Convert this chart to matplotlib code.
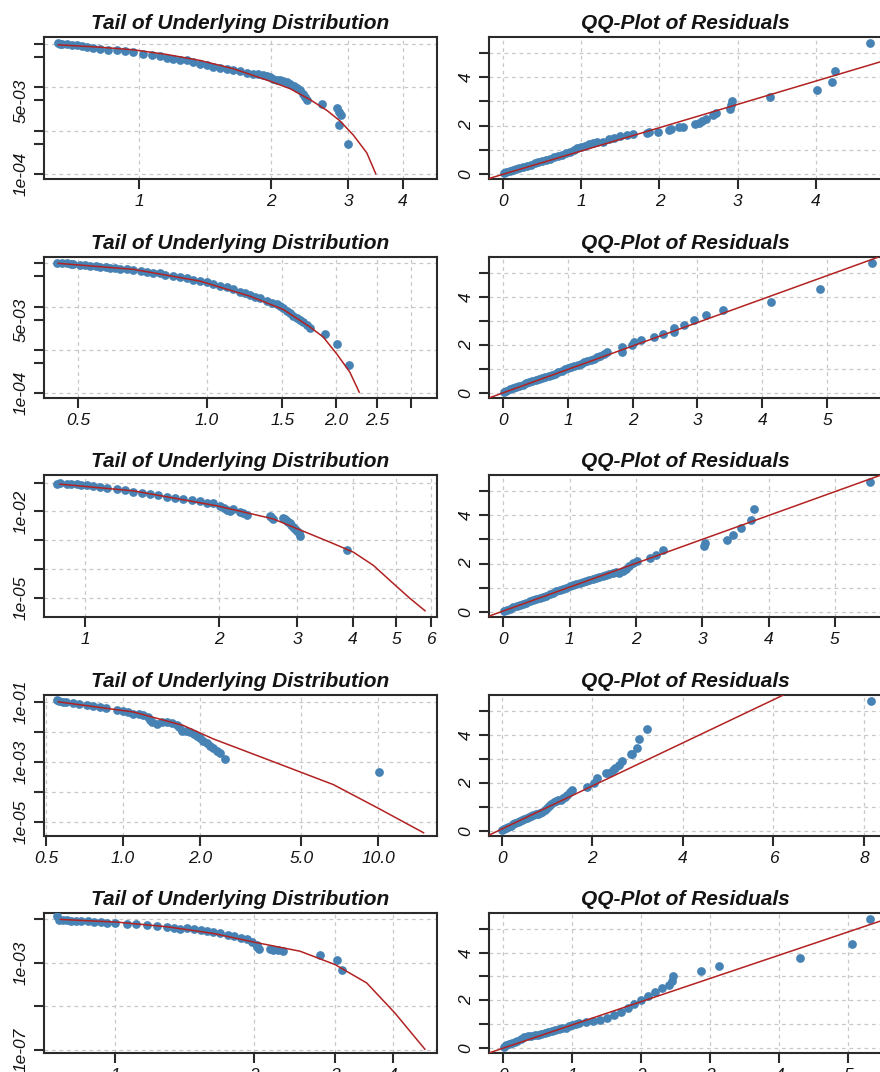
import matplotlib
matplotlib.use('Agg')
import matplotlib.pyplot as plt

plt.rcParams['font.family'] = ['Liberation Sans', 'DejaVu Sans']

# ---------------- data: tail plots (left column) ----------------
tail1_x = [0.654,0.660,0.668,0.684,0.702,0.721,0.740,0.760,0.787,0.815,0.851,0.889,0.929,0.970,
           1.023,1.070,1.117,1.157,1.197,1.240,1.285,1.330,1.377,1.427,1.477,1.530,1.585,1.641,
           1.699,1.760,1.823,1.870,1.921,1.955,1.990,2.025,2.061,2.097,2.134,2.172,2.210,2.250,
           2.289,2.329,2.370,2.391,2.412,2.610,2.820,2.860,2.880,2.862,2.991]
tail1_y = [0.104,0.099,0.101,0.100,0.097,0.094,0.090,0.0844,0.081,0.0774,0.074,0.0710,0.068,0.0648,
           0.0594,0.055,0.0516,0.048,0.0457,0.043,0.0418,0.038,0.0350,0.0320,0.0293,0.028,0.0269,0.025,
           0.0237,0.022,0.0206,0.0199,0.0189,0.0180,0.0173,0.016,0.0150,0.0145,0.0140,0.013,0.0121,0.011,
           0.0098,0.00853,0.00716,0.0060,0.00502,0.00422,0.00330,0.00271,0.00227,0.00134,0.000482]
fit1_x = [0.654,0.815,0.970,1.156,1.377,1.641,1.997,2.210,2.455,2.679,2.873,3.082,3.306,3.465]
fit1_y = [0.0957,0.0844,0.0735,0.0574,0.0418,0.0269,0.0137,0.00932,0.0052,0.00296,0.00168,0.000788,0.000309,0.000102]

tail2_x = [0.4454,0.4575,0.470,0.48,0.4872,0.505,0.52,0.5328,0.55,0.5623,0.58,0.5933,0.61,0.6263,0.65,
           0.6729,0.70,0.7229,0.75,0.7764,0.80,0.8343,0.865,0.8964,0.93,0.963,0.998,1.0346,1.072,1.112,
           1.152,1.194,1.227,1.260,1.295,1.330,1.379,1.416,1.455,1.481,1.508,1.535,1.563,1.591,1.620,
           1.649,1.680,1.710,1.741,1.887,2.016,2.150]
tail2_y = [0.1032,0.100,0.100,0.098,0.0963,0.0913,0.090,0.0880,0.086,0.0834,0.081,0.0791,0.077,0.0738,0.072,
           0.0699,0.067,0.0638,0.061,0.0586,0.055,0.0507,0.048,0.0449,0.042,0.0388,0.0362,0.0331,0.0302,0.0277,
           0.0249,0.0219,0.0201,0.0184,0.0168,0.0154,0.0133,0.0122,0.0114,0.0102,0.00904,0.00795,0.00692,0.00621,0.00558,
           0.00502,0.00442,0.00385,0.00327,0.00238,0.00139,0.000454]
fit2_x = [0.449,0.673,0.963,1.260,1.508,1.741,1.870,2.009,2.158,2.270]
fit2_y = [0.100,0.0726,0.0388,0.0174,0.00857,0.00338,0.00198,0.000816,0.000305,0.000105]

tail3_x = [0.8636,0.88,0.9095,0.93,0.958,0.98,1.0086,1.04,1.0807,1.12,1.178,1.23,1.284,1.34,1.400,1.46,
           1.526,1.59,1.663,1.74,1.813,1.88,1.943,2.011,2.05,2.082,2.12,2.155,2.230,2.26,2.308,2.604,2.62,
           2.650,2.791,2.82,2.840,2.86,2.889,2.91,2.939,2.97,2.990,3.02,3.042,3.873]
tail3_y = [0.0931,0.094,0.0931,0.090,0.0887,0.085,0.0820,0.077,0.0716,0.066,0.0596,0.054,0.0492,0.044,0.0400,0.036,
           0.0323,0.029,0.0269,0.024,0.0222,0.020,0.0189,0.0149,0.0135,0.0112,0.0105,0.0121,0.00923,0.0085,0.00769,0.0071,0.0063,
           0.00546,0.00591,0.0053,0.00477,0.0043,0.00385,0.0034,0.00296,0.0025,0.00215,0.0018,0.00144,0.000436]
fit3_x = [0.879,1.284,1.977,2.650,3.042,3.553,4.009,4.446,4.93,5.375,5.808]
fit3_y = [0.0887,0.0520,0.0157,0.00546,0.00227,0.000846,0.000381,0.000132,3.08e-5,9.3e-6,3.47e-6]

tail4_x = [0.5495,0.56,0.5834,0.60,0.6385,0.67,0.7206,0.76,0.8124,0.86,0.9447,1.0,1.05,1.0976,1.15,1.201,
           1.25,1.276,1.30,1.356,1.42,1.484,1.55,1.624,1.65,1.699,1.76,1.831,1.89,1.945,2.0,2.065,2.13,
           2.194,2.26,2.331,2.40,2.512,10.03]
tail4_y = [0.1142,0.105,0.100,0.098,0.0925,0.086,0.0773,0.073,0.0677,0.063,0.0552,0.050,0.045,0.0404,0.038,0.0354,
           0.030,0.0253,0.022,0.0175,0.022,0.0210,0.019,0.0162,0.014,0.011,0.0105,0.00962,0.0085,0.00743,0.0063,0.00503,0.0042,
           0.0034,0.0028,0.00231,0.0019,0.00121,0.000448]
fit4_x = [0.5576,1.098,1.724,2.261,3.66,6.68,10.03,15.06]
fit4_y = [0.100,0.0458,0.0162,0.00574,0.00121,0.000171,2.76e-5,4.24e-6]

tail5_x = [0.7477,0.7537,0.77,0.786,0.80,0.82,0.840,0.87,0.8975,0.93,0.9594,1.0,1.060,1.11,1.171,1.23,
           1.294,1.34,1.383,1.43,1.477,1.53,1.579,1.63,1.688,1.75,1.804,1.87,1.928,1.98,2.026,2.03,2.043,
           2.16,2.201,2.25,2.314,2.778,3.028,3.105]
tail5_y = [0.140,0.0918,0.095,0.0918,0.088,0.085,0.0826,0.080,0.0743,0.076,0.0697,0.070,0.0627,0.060,0.0523,0.050,
           0.0437,0.042,0.0369,0.038,0.0343,0.031,0.0286,0.026,0.0224,0.020,0.0168,0.014,0.0119,0.0095,0.00697,0.0055,0.00442,
           0.0045,0.0041,0.0038,0.00343,0.00241,0.00142,0.000491]
fit5_x = [0.760,1.0086,1.294,1.632,2.002,2.514,2.994,3.506,4.037,4.688]
fit5_y = [0.0989,0.0743,0.0456,0.0224,0.00889,0.00343,0.000835,0.000120,4.97e-6,1.09e-7]

# ---------------- data: QQ plots (right column) ----------------
qq1_x = [0.01,0.04,0.08,0.12,0.16,0.2,0.25,0.3,0.35,0.4,0.45,0.5,0.55,0.6,0.65,0.7,0.75,0.8,0.85,0.9,
         0.95,1.0,1.05,1.1,1.15,1.2,1.28,1.35,1.42,1.5,1.58,1.66,
         1.84,1.87,1.98,2.12,2.15,2.25,2.3,2.45,2.5,2.55,2.6,2.68,2.72,2.9,2.92,2.93,3.42,4.02,4.21,4.25,4.70]
qq1_y = [0.02,0.06,0.11,0.15,0.19,0.23,0.28,0.33,0.38,0.43,0.48,0.53,0.58,0.63,0.68,0.73,0.78,0.84,0.92,0.98,
         1.05,1.12,1.15,1.22,1.27,1.3,1.33,1.42,1.48,1.55,1.6,1.63,
         1.69,1.72,1.73,1.8,1.85,1.92,1.95,2.05,2.12,2.2,2.28,2.42,2.5,2.7,2.85,3.0,3.18,3.48,3.8,4.27,5.42]
qq1_line = (-0.02, 0.965)

qq2_x = [0.01,0.05,0.1,0.15,0.2,0.25,0.3,0.35,0.4,0.45,0.5,0.55,0.6,0.65,0.7,0.75,0.8,0.85,0.9,0.95,
         1.0,1.05,1.1,1.15,1.2,1.25,1.3,1.35,1.4,1.45,1.5,1.55,1.6,
         1.84,1.84,1.99,2.02,2.12,2.33,2.46,2.64,2.64,2.79,2.95,3.13,3.39,4.14,4.89,5.69]
qq2_y = [0.02,0.08,0.14,0.19,0.24,0.29,0.34,0.39,0.44,0.49,0.53,0.58,0.62,0.67,0.71,0.76,0.8,0.86,0.92,1.0,
         1.05,1.08,1.13,1.18,1.22,1.27,1.32,1.37,1.42,1.48,1.55,1.62,1.7,
         1.70,1.91,1.98,2.12,2.19,2.33,2.47,2.54,2.72,2.82,3.02,3.23,3.44,3.79,4.32,5.42]
qq2_line = (0.0, 0.978)

qq3_x = [0.01,0.05,0.1,0.15,0.2,0.25,0.3,0.35,0.4,0.45,0.5,0.55,0.6,0.65,0.7,0.75,0.8,0.85,0.9,0.95,
         1.0,1.05,1.1,1.15,1.2,1.25,1.3,1.35,1.4,1.45,1.5,1.55,1.6,1.65,1.7,1.75,1.8,1.85,1.9,1.95,
         2.01,2.21,2.31,2.41,3.02,3.04,3.37,3.47,3.59,3.74,3.78,5.53]
qq3_y = [0.03,0.07,0.12,0.18,0.23,0.28,0.33,0.38,0.43,0.48,0.53,0.58,0.63,0.67,0.72,0.78,0.85,0.9,0.95,1.0,
         1.06,1.12,1.17,1.2,1.23,1.26,1.3,1.34,1.4,1.44,1.48,1.53,1.58,1.62,1.65,1.62,1.68,1.78,1.88,2.03,
         2.1,2.23,2.37,2.58,2.72,2.86,2.99,3.2,3.48,3.82,4.28,5.40]
qq3_line = (0.03, 0.99)

qq4_x = [0.01,0.05,0.1,0.15,0.2,0.25,0.3,0.35,0.4,0.45,0.5,0.55,0.6,0.65,0.7,0.75,0.8,0.85,0.9,0.95,
         1.0,1.05,1.1,1.15,1.2,1.25,1.3,1.35,1.4,1.45,1.5,1.55,
         1.88,2.03,2.1,2.3,2.36,2.45,2.51,2.6,2.66,2.85,2.88,2.99,3.03,3.21,8.15]
qq4_y = [0.04,0.07,0.12,0.17,0.22,0.28,0.32,0.37,0.42,0.46,0.5,0.55,0.58,0.62,0.65,0.68,0.72,0.76,0.8,0.88,
         0.95,1.02,1.1,1.2,1.24,1.27,1.3,1.35,1.4,1.48,1.6,1.72,
         1.81,2.01,2.22,2.4,2.43,2.55,2.64,2.75,2.92,3.2,3.19,3.47,3.82,4.26,5.40]
qq4_line = (0.07, 0.90)

qq5_x = [0.01,0.04,0.08,0.12,0.16,0.2,0.25,0.3,0.35,0.4,0.45,0.5,0.55,0.6,0.65,0.7,0.75,0.8,0.85,0.9,
         0.95,1.0,1.05,1.1,1.2,1.3,1.4,1.5,1.6,1.7,1.8,1.9,2.0,2.1,2.2,2.3,2.4,2.45,
         2.46,2.87,3.12,4.30,5.05,5.31]
qq5_y = [0.02,0.1,0.15,0.2,0.25,0.3,0.35,0.45,0.5,0.5,0.52,0.55,0.6,0.63,0.67,0.7,0.75,0.8,0.82,0.85,
         0.92,0.98,1.02,1.05,1.1,1.12,1.18,1.26,1.38,1.52,1.68,1.85,2.02,2.2,2.35,2.5,2.65,2.8,
         3.0,3.23,3.44,3.79,4.35,5.43]
qq5_line = (-0.01, 0.977)

# ---------------- axis settings ----------------
tail_xlim = [(0.607, 4.78), (0.416, 3.45), (0.809, 6.18), (0.49, 17.0), (0.70, 4.98)]
tail_ylim = [(7.7e-5, 0.145), (7.7e-5, 0.14), (2.1e-6, 0.185), (3.3e-6, 0.169), (7.3e-8, 0.195)]
tail_xticks = [[1, 2, 3, 4], [0.5, 1.0, 1.5, 2.0, 2.5, 3.0], [1, 2, 3, 4, 5, 6], [0.5, 1.0, 2.0, 5.0, 10.0], [1, 2, 3, 4]]
tail_xlabels = [['1', '2', '3', '4'], ['0.5', '1.0', '1.5', '2.0', '2.5', ''], ['1', '2', '3', '4', '5', '6'],
                ['0.5', '1.0', '2.0', '5.0', '10.0'], ['1', '2', '3', '4']]
tail_yticks = [[1e-4, 5e-4, 1e-3, 5e-3, 1e-2, 5e-2, 1e-1], [1e-4, 5e-4, 1e-3, 5e-3, 1e-2, 5e-2, 1e-1],
               [1e-5, 1e-4, 1e-3, 1e-2, 1e-1], [1e-5, 1e-4, 1e-3, 1e-2, 1e-1], [1e-7, 1e-5, 1e-3, 1e-1]]
tail_ylabels = [['1e-04', '', '', '5e-03', '', '', ''], ['1e-04', '', '', '5e-03', '', '', ''],
                ['1e-05', '', '', '1e-02', ''], ['1e-05', '', '1e-03', '', '1e-01'], ['1e-07', '', '1e-03', '']]
tail_ygrid = [[1e-4, 1e-3, 1e-2, 1e-1], [1e-4, 1e-3, 1e-2, 1e-1], [1e-5, 1e-4, 1e-3, 1e-2, 1e-1],
              [1e-5, 1e-4, 1e-3, 1e-2, 1e-1], [1e-7, 1e-5, 1e-3, 1e-1]]

qq_xlim = [(-0.183, 4.85), (-0.22, 5.85), (-0.215, 5.71), (-0.28, 8.4), (-0.21, 5.49)]
qq_ylim = (-0.218, 5.67)
qq_xticks = [[0, 1, 2, 3, 4], [0, 1, 2, 3, 4, 5], [0, 1, 2, 3, 4, 5], [0, 2, 4, 6, 8], [0, 1, 2, 3, 4, 5]]
qq_yticks = [0, 1, 2, 3, 4, 5]
qq_ylabels = ['0', '', '2', '', '4', '']

tails = [(tail1_x, tail1_y, fit1_x, fit1_y), (tail2_x, tail2_y, fit2_x, fit2_y),
         (tail3_x, tail3_y, fit3_x, fit3_y), (tail4_x, tail4_y, fit4_x, fit4_y),
         (tail5_x, tail5_y, fit5_x, fit5_y)]
qqs = [(qq1_x, qq1_y, qq1_line), (qq2_x, qq2_y, qq2_line), (qq3_x, qq3_y, qq3_line),
       (qq4_x, qq4_y, qq4_line), (qq5_x, qq5_y, qq5_line)]

# ---------------- style ----------------
PT_COL = '#4682B4'
LN_COL = '#B22222'
GRID_COL = '#c8c8c8'
AX_COL = '#2b2b2b'
TXT_COL = '#141414'
MS = 6.3

W, H = 880, 1072
fig = plt.figure(figsize=(W / 100, H / 100), dpi=100)
fig.patch.set_facecolor('white')

ROW_TOP = [37, 257, 475, 695, 913]
ROW_BOT = [179, 398, 617, 836, 1053]
LEFT_X = (44, 437)
RIGHT_X = (489, 882)


def make_ax(x0, x1, top, bot):
    return fig.add_axes([x0 / W, 1 - bot / H, (x1 - x0) / W, (bot - top) / H])


def style(ax, title):
    for s in ax.spines.values():
        s.set_linewidth(1.5)
        s.set_color(AX_COL)
    ax.tick_params(direction='out', length=7, width=1.5, color=AX_COL,
                   labelsize=12.5, pad=4, labelcolor=TXT_COL)
    for lab in ax.get_xticklabels() + ax.get_yticklabels():
        lab.set_fontstyle('italic')
    for lab in ax.get_yticklabels():
        lab.set_rotation(90)
        lab.set_va('center')
    ax.set_title(title, fontsize=15, fontweight='bold', fontstyle='italic',
                 pad=6, color=TXT_COL)


grid_kw = dict(color=GRID_COL, lw=0.9, ls=(0, (3, 3)), zorder=0)

for i in range(5):
    # ---- tail plot ----
    ax = make_ax(LEFT_X[0], LEFT_X[1], ROW_TOP[i], ROW_BOT[i])
    tx, ty, fx, fy = tails[i]
    ax.set_xscale('log')
    ax.set_yscale('log')
    for v in tail_xticks[i]:
        ax.axvline(v, **grid_kw)
    for v in tail_ygrid[i]:
        ax.axhline(v, **grid_kw)
    ax.plot(tx, ty, 'o', color=PT_COL, ms=MS, mec='none', zorder=3)
    ax.plot(fx, fy, color=LN_COL, lw=1.1, zorder=4)
    ax.set_xlim(*tail_xlim[i])
    ax.set_ylim(*tail_ylim[i])
    ax.minorticks_off()
    ax.set_xticks(tail_xticks[i], tail_xlabels[i])
    ax.set_yticks(tail_yticks[i], tail_ylabels[i])
    ax.minorticks_off()
    style(ax, 'Tail of Underlying Distribution')

    # ---- QQ plot ----
    ax = make_ax(RIGHT_X[0], RIGHT_X[1], ROW_TOP[i], ROW_BOT[i])
    qx, qy, (b, m) = qqs[i]
    for v in qq_xticks[i]:
        ax.axvline(v, **grid_kw)
    for v in qq_yticks:
        ax.axhline(v, **grid_kw)
    ax.plot(qx, qy, 'o', color=PT_COL, ms=MS, mec='none', zorder=3)
    ax.axline((0, b), slope=m, color=LN_COL, lw=1.1, zorder=4)
    ax.set_xlim(*qq_xlim[i])
    ax.set_ylim(*qq_ylim)
    ax.set_xticks(qq_xticks[i], [str(t) for t in qq_xticks[i]])
    ax.set_yticks(qq_yticks, qq_ylabels)
    style(ax, 'QQ-Plot of Residuals')

fig.savefig('out.png', dpi=100, facecolor='white')
